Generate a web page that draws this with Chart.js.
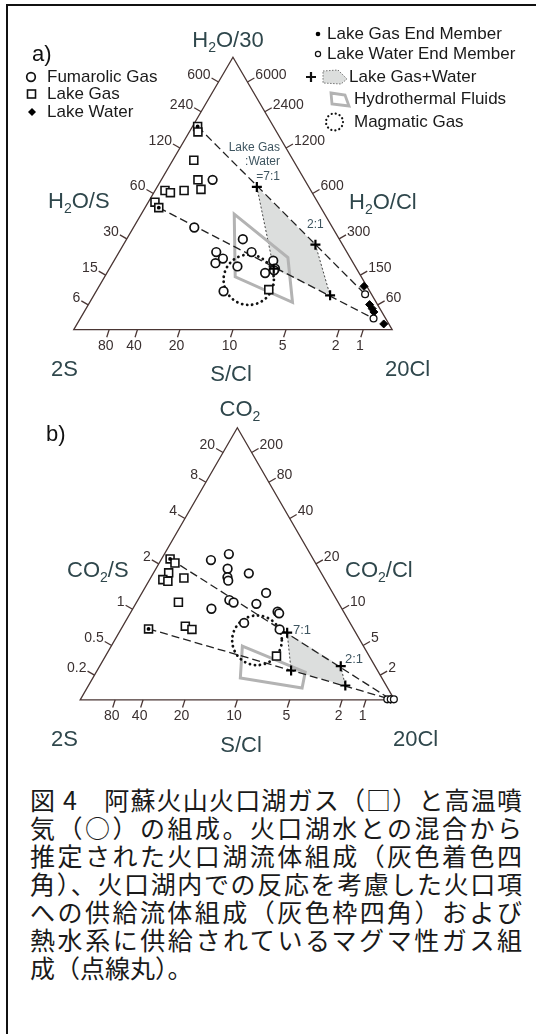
<!DOCTYPE html>
<html>
<head>
<meta charset="utf-8">
<script src="https://cdn.jsdelivr.net/npm/chart.js@4.4.0/dist/chart.umd.min.js"></script>
<style>
html, body { margin: 0; padding: 0; background: #fff; }
body { width: 536px; height: 1034px; position: relative; overflow: hidden; }
#frame { position: absolute; left: 6px; top: 4px; width: 540px; height: 1040px;
  border-left: 2px solid #111; border-top: 2px solid #111; }
canvas { position: absolute; left: 0; }
#chartA { top: 0; }
#chartB { top: 385px; }
#caption { position: absolute; left: 30px; top: 785px; width: 492px;
  font-family: "Noto Sans CJK JP", sans-serif; font-size: 25px; line-height: 28px; color: #1a1a1a; }
#caption div { text-align: justify; text-align-last: justify; white-space: nowrap; }
#caption div.last { text-align: left; text-align-last: left; }
</style>
</head>
<body>
<div id="frame"></div>
<canvas id="chartA" width="536" height="385"></canvas>
<canvas id="chartB" width="536" height="375"></canvas>
<div id="caption">
  <div>図 4　阿蘇火山火口湖ガス（□）と高温噴</div>
  <div>気（○）の組成。火口湖水との混合から</div>
  <div>推定された火口湖流体組成（灰色着色四</div>
  <div>角）、火口湖内での反応を考慮した火口項</div>
  <div>への供給流体組成（灰色枠四角）および</div>
  <div>熱水系に供給されているマグマ性ガス組</div>
  <div class="last">成（点線丸）。</div>
</div>
<script>
// ternary values as [top %, right %], left = 100 - top - right
// a) top = H2O/30, left = 2S, right = 20Cl
const fumarolicA = [[55.0,16.1],[37.5,19.1],[33.2,36.5],[28.5,30.5],[28.5,41.6],[26.1,33.8],
  [24.4,32.3],[23.2,39.8],[25.3,50.0],[20.8,49.7],[22.4,52.0],[21.8,52.0],[14.1,40.0]];
const lakeGasA = [[74.6,1.6],[72.6,2.7],[62.2,6.6],[55.0,11.5],[51.5,14.2],[51.1,3.1],
  [50.3,5.2],[51.1,9.1],[46.8,2.1],[44.8,4.3],[14.7,53.9]];
const lakeGasEndA = [[74.6,1.6],[44.8,4.3]];
const lakeWaterA = [[15.9,83.2],[9.2,88.3],[7.7,89.9],[6.5,91.0],[2.1,96.3]];
const lakeWaterEndA = [[13.0,85.0],[4.1,92.1]];
const mixA = [[52.4,31.3],[31.2,60.3],[12.6,74.2],[22.4,51.6]]; // 7:1, 2:1, 2:1, 7:1
const hydroA = [[42.4,29.2],[26.5,54.0],[10.0,63.7],[19.4,41.0]];
const magmaA = [18.3,45.8];
const magmaRadiusA = 7.9;
const leftTicksA = [600,240,120,60,30,15,6];     // H2O/S
const rightTicksA = [6000,2400,1200,600,300,150,60]; // H2O/Cl
const bottomTicks = [80,40,20,10,5,2,1];         // S/Cl

// b) top = CO2, left = 2S, right = 20Cl
const fumarolicB = [[51.4,15.9],[53.6,20.5],[48.2,22.8],[45.1,24.3],[43.8,25.2],[46.5,30.4],
  [36.7,29.1],[35.8,30.9],[33.5,25.0],[39.3,39.5],[35.3,38.4],[32.4,46.6],[31.8,47.4],
  [28.3,38.0],[25.9,50.5]];
const lakeGasB = [[51.8,2.7],[50.3,5.0],[46.7,4.8],[44.2,4.2],[43.6,6.1],[44.8,10.6],
  [35.9,13.3],[26.1,8.7],[27.1,19.9],[25.9,22.6],[16.1,54.4]];
const lakeGasEndB = [[51.8,2.7],[26.1,8.7]];
const lakeWaterB = [[0.2,98.6]];
const lakeWaterEndB = [[0.2,97.6],[0.2,98.7],[0.2,99.7]];
const mixB = [[24.7,53.5],[12.4,76.7],[5.3,81.7],[10.8,61.7]];
const hydroB = [[19.8,41.7],[10.2,66.5],[4.4,68.4],[8.1,46.9]];
const magmaB = [21.9,45.3];
const magmaRadiusB = 7.9;
const leftTicksB = ["20","8","4","2","1","0.5","0.2"];   // CO2/S
const rightTicksB = ["200","80","40","20","10","5","2"]; // CO2/Cl

const FONT = '"Liberation Sans", Arial, sans-serif';
const tern = p => ({ x: p[1] / 100 + p[0] / 200, y: p[0] / 100 });

function chem(ctx, parts, x, y, align, size) {
  const sub = Math.round(size * 0.64);
  let w = 0;
  parts.forEach(p => {
    ctx.font = (Array.isArray(p) ? sub : size) + 'px ' + FONT;
    w += ctx.measureText(Array.isArray(p) ? p[0] : p).width;
  });
  let cx = align === 'center' ? x - w / 2 : x;
  ctx.textAlign = 'left';
  ctx.textBaseline = 'alphabetic';
  parts.forEach(p => {
    const s = Array.isArray(p);
    const t = s ? p[0] : p;
    ctx.font = (s ? sub : size) + 'px ' + FONT;
    ctx.fillText(t, cx, s ? y + size * 0.22 : y);
    cx += ctx.measureText(t).width;
  });
}

function poly(ctx, pts) {
  ctx.beginPath();
  pts.forEach((p, i) => i ? ctx.lineTo(p.x, p.y) : ctx.moveTo(p.x, p.y));
  ctx.closePath();
}

function dottedCircle(ctx, x, y, r, lw, gap) {
  ctx.save();
  ctx.strokeStyle = '#111';
  ctx.lineWidth = lw;
  ctx.lineCap = 'round';
  ctx.setLineDash([0.1, gap]);
  ctx.beginPath();
  ctx.arc(x, y, r, 0, Math.PI * 2);
  ctx.stroke();
  ctx.restore();
}

function build(id, geo, d) {
  const span = geo.right - geo.left;
  const H = geo.base - geo.apex;
  const baseC = geo.base - geo.top;
  const line = (a, b) => ({
    data: [tern(a), tern(b)], showLine: true, borderColor: '#222', borderWidth: 1.3,
    borderDash: [8, 4], pointRadius: 0, order: 6
  });
  const datasets = [
    line(d.lines[0][0], d.lines[0][1]),
    line(d.lines[1][0], d.lines[1][1]),
    { data: d.water.map(tern), pointStyle: 'rectRot', pointRadius: 4, backgroundColor: '#000',
      borderColor: '#000', borderWidth: 1, order: 3 },
    { data: d.fum.map(tern), pointStyle: 'circle', pointRadius: 4.3, backgroundColor: '#fff',
      borderColor: '#111', borderWidth: 1.7, order: 2 },
    { data: d.gas.map(tern), pointStyle: 'rect', pointRadius: 5.6, backgroundColor: '#fff',
      borderColor: '#111', borderWidth: 1.6, order: 2 },
    { data: d.waterEnd.map(tern), pointStyle: 'circle', pointRadius: 3.4, backgroundColor: '#fff',
      borderColor: '#111', borderWidth: 1.3, order: 1 },
    { data: d.mix.map(tern), pointStyle: 'cross', pointRadius: 5, borderColor: '#000',
      borderWidth: 2.2, order: 1 },
    { data: d.gasEnd.map(tern), pointStyle: 'circle', pointRadius: 1.9, backgroundColor: '#000',
      borderColor: '#000', borderWidth: 0, order: 0 }
  ];

  new Chart(document.getElementById(id), {
    type: 'scatter',
    data: { datasets },
    options: {
      responsive: false, animation: false, devicePixelRatio: 1, events: [],
      layout: { padding: 0 },
      plugins: { legend: { display: false }, tooltip: { enabled: false } },
      scales: {
        x: { type: 'linear', display: false, min: -geo.left / span, max: (536 - geo.left) / span },
        y: { type: 'linear', display: false, min: (baseC - geo.height) / H, max: baseC / H }
      }
    },
    plugins: [{
      id: 'ternary',
      beforeDatasetsDraw(c) {
        const ctx = c.ctx;
        const P = p => ({ x: c.scales.x.getPixelForValue(p.x), y: c.scales.y.getPixelForValue(p.y) });
        const T = p => P(tern(p));
        ctx.save();
        // lake gas + water field
        poly(ctx, d.mix.map(T));
        ctx.fillStyle = '#dcdedd';
        ctx.fill();
        ctx.strokeStyle = '#333';
        ctx.lineWidth = 0.9;
        ctx.setLineDash([2, 2]);
        [[0, 3], [1, 2]].forEach(([i, j]) => {
          const a = T(d.mix[i]), b = T(d.mix[j]);
          ctx.beginPath(); ctx.moveTo(a.x, a.y); ctx.lineTo(b.x, b.y); ctx.stroke();
        });
        ctx.setLineDash([]);
        // hydrothermal fluids
        poly(ctx, d.hydro.map(T));
        ctx.strokeStyle = '#b3b3b3';
        ctx.lineWidth = 3;
        ctx.stroke();
        // magmatic gas
        const m = T(d.magma);
        const r = c.scales.x.getPixelForValue(d.magmaR / 100) - c.scales.x.getPixelForValue(0);
        dottedCircle(ctx, m.x, m.y, r, 2.8, 5);
        // triangle frame
        const A = P({ x: 0, y: 0 }), B = P({ x: 1, y: 0 }), C = P({ x: 0.5, y: 1 });
        poly(ctx, [A, B, C]);
        ctx.strokeStyle = '#4a3634';
        ctx.lineWidth = 1.3;
        ctx.stroke();
        // ticks
        ctx.fillStyle = '#3a3030';
        ctx.font = '14px ' + FONT;
        const L = 8;
        d.leftTicks.forEach(lab => {
          const R = parseFloat(lab), t = R / (R + d.kL);
          const p = T([t * 100, 0]);
          const e = { x: p.x - L * 0.866, y: p.y - L * 0.5 };
          ctx.beginPath(); ctx.moveTo(p.x, p.y); ctx.lineTo(e.x, e.y); ctx.stroke();
          ctx.textAlign = 'right'; ctx.textBaseline = 'middle';
          ctx.fillText(String(lab), e.x - 1, e.y - 3);
        });
        d.rightTicks.forEach(lab => {
          const R = parseFloat(lab), t = R / (R + d.kR);
          const p = T([t * 100, (1 - t) * 100]);
          const e = { x: p.x + L * 0.866, y: p.y - L * 0.5 };
          ctx.beginPath(); ctx.moveTo(p.x, p.y); ctx.lineTo(e.x, e.y); ctx.stroke();
          ctx.textAlign = 'left'; ctx.textBaseline = 'middle';
          ctx.fillText(String(lab), e.x + 1, e.y - 3);
        });
        bottomTicks.forEach(R => {
          const rr = 10 / (R + 10);
          const p = T([0, rr * 100]);
          const e = { x: p.x - L * 0.3, y: p.y + L * 0.954 };
          ctx.beginPath(); ctx.moveTo(p.x, p.y); ctx.lineTo(e.x, e.y); ctx.stroke();
          ctx.textAlign = 'center'; ctx.textBaseline = 'top';
          ctx.fillText(String(R), e.x - 1, e.y + 2);
        });
        ctx.restore();
      },
      afterDatasetsDraw(c) {
        const ctx = c.ctx;
        ctx.save();
        ctx.translate(0, -geo.top);
        d.text(ctx);
        ctx.restore();
      }
    }]
  });
}

function textA(ctx) {
  ctx.fillStyle = '#111';
  ctx.font = '22px ' + FONT;
  ctx.textAlign = 'left'; ctx.textBaseline = 'alphabetic';
  ctx.fillText('a)', 32, 61);
  ctx.fillStyle = '#2f474c';
  chem(ctx, ['H', ['2'], 'O/30'], 228, 47, 'center', 22);
  chem(ctx, ['H', ['2'], 'O/S'], 48, 208, 'left', 22);
  chem(ctx, ['H', ['2'], 'O/Cl'], 349, 209, 'left', 22);
  chem(ctx, ['2S'], 51, 376, 'left', 22);
  chem(ctx, ['S/Cl'], 231, 381, 'center', 22);
  chem(ctx, ['20Cl'], 385, 376, 'left', 22);
  // mixing ratio labels
  ctx.fillStyle = '#3e5560';
  ctx.font = '12px ' + FONT;
  ctx.textAlign = 'right'; ctx.textBaseline = 'middle';
  ctx.fillText('Lake Gas', 280, 148);
  ctx.fillText(':Water', 280, 162);
  ctx.fillText('=7:1', 280, 177);
  ctx.textAlign = 'left';
  ctx.fillText('2:1', 307, 225);
  // legend
  ctx.fillStyle = '#1a1a1a';
  ctx.font = '17px ' + FONT;
  ctx.textBaseline = 'middle';
  [['Fumarolic Gas', 47, 77], ['Lake Gas', 47, 94], ['Lake Water', 47, 112],
   ['Lake Gas End Member', 327, 34], ['Lake Water End Member', 327, 54],
   ['Lake Gas+Water', 349, 77], ['Hydrothermal Fluids', 354, 99], ['Magmatic Gas', 354, 122]]
    .forEach(([s, x, y]) => ctx.fillText(s, x, y));
  ctx.strokeStyle = '#111';
  ctx.fillStyle = '#fff';
  ctx.lineWidth = 1.7;
  ctx.beginPath(); ctx.arc(31, 77, 4.3, 0, Math.PI * 2); ctx.fill(); ctx.stroke();
  ctx.lineWidth = 1.6;
  ctx.strokeRect(27.5, 90, 8, 8);
  ctx.fillStyle = '#000';
  poly(ctx, [{ x: 32, y: 108 }, { x: 36, y: 112 }, { x: 32, y: 116 }, { x: 28, y: 112 }]);
  ctx.fill();
  ctx.beginPath(); ctx.arc(318, 34, 2.3, 0, Math.PI * 2); ctx.fill();
  ctx.lineWidth = 1.2;
  ctx.beginPath(); ctx.arc(318, 54, 2.6, 0, Math.PI * 2); ctx.stroke();
  ctx.lineWidth = 2.2;
  ctx.beginPath(); ctx.moveTo(306, 77); ctx.lineTo(316, 77); ctx.moveTo(311, 72); ctx.lineTo(311, 82); ctx.stroke();
  poly(ctx, [{ x: 323, y: 71 }, { x: 338, y: 70 }, { x: 347, y: 79 }, { x: 341, y: 84 }, { x: 323, y: 83 }]);
  ctx.fillStyle = '#dcdedd'; ctx.fill();
  ctx.setLineDash([1.5, 1.5]); ctx.lineWidth = 0.8; ctx.strokeStyle = '#555'; ctx.stroke();
  ctx.setLineDash([]);
  poly(ctx, [{ x: 331, y: 93 }, { x: 345, y: 95 }, { x: 349, y: 106 }, { x: 332, y: 104 }]);
  ctx.strokeStyle = '#b3b3b3'; ctx.lineWidth = 2.8; ctx.stroke();
  dottedCircle(ctx, 334.5, 122, 8.5, 2.2, 4);
}

function textB(ctx) {
  ctx.fillStyle = '#111';
  ctx.font = '22px ' + FONT;
  ctx.textAlign = 'left'; ctx.textBaseline = 'alphabetic';
  ctx.fillText('b)', 46, 441);
  ctx.fillStyle = '#2f474c';
  chem(ctx, ['CO', ['2']], 240, 416, 'center', 22);
  chem(ctx, ['CO', ['2'], '/S'], 67, 577, 'left', 22);
  chem(ctx, ['CO', ['2'], '/Cl'], 345, 577, 'left', 22);
  chem(ctx, ['2S'], 51, 746, 'left', 22);
  chem(ctx, ['S/Cl'], 241, 752, 'center', 22);
  chem(ctx, ['20Cl'], 393, 746, 'left', 22);
  ctx.fillStyle = '#3e5560';
  ctx.font = '13px ' + FONT;
  ctx.textAlign = 'left'; ctx.textBaseline = 'middle';
  ctx.fillText('7:1', 293, 630);
  ctx.fillText('2:1', 345, 659);
}

build('chartA', { top: 0, height: 385, left: 68.4, right: 395.6, base: 335, apex: 52 }, {
  fum: fumarolicA, gas: lakeGasA, gasEnd: lakeGasEndA, water: lakeWaterA, waterEnd: lakeWaterEndA,
  mix: mixA, hydro: hydroA, magma: magmaA, magmaR: magmaRadiusA,
  lines: [[lakeGasEndA[0], lakeWaterEndA[0]], [lakeGasEndA[1], lakeWaterEndA[1]]],
  leftTicks: leftTicksA, rightTicks: rightTicksA, kL: 60, kR: 600, text: textA
});
build('chartB', { top: 385, height: 375, left: 75, right: 398, base: 705, apex: 422 }, {
  fum: fumarolicB, gas: lakeGasB, gasEnd: lakeGasEndB, water: lakeWaterB, waterEnd: lakeWaterEndB,
  mix: mixB, hydro: hydroB, magma: magmaB, magmaR: magmaRadiusB,
  lines: [[lakeGasEndB[0], lakeWaterEndB[1]], [lakeGasEndB[1], lakeWaterEndB[1]]],
  leftTicks: leftTicksB, rightTicks: rightTicksB, kL: 2, kR: 20, text: textB
});
</script>
</body>
</html>
